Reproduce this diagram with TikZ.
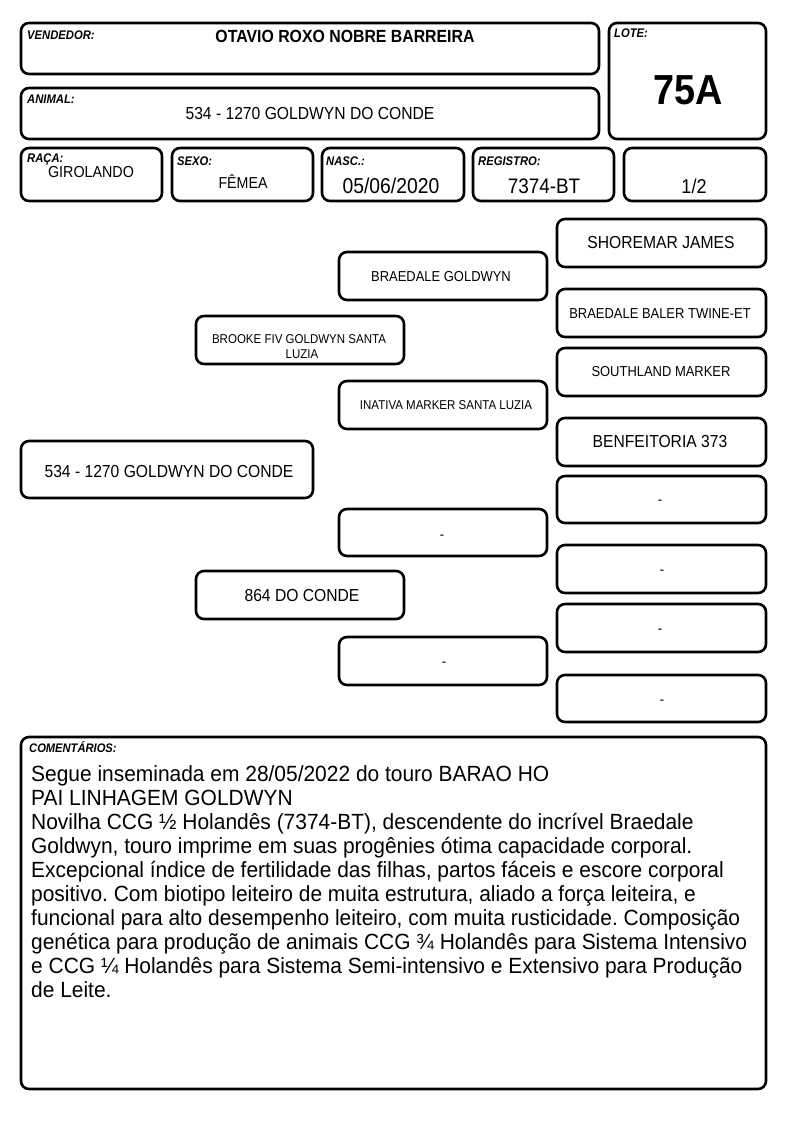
\documentclass[tikz,border=0pt]{standalone}
\usepackage{fontspec}
\setmainfont[FakeStretch=0.9]{Liberation Sans}
\newfontfamily\comfont[FakeStretch=0.952]{Liberation Sans}
\frenchspacing
\newcommand\fs[1]{\fontsize{#1}{#1}\selectfont}
\newcommand\mybox[5]{\node[box,minimum width={(#4)-(#2)},minimum height={(#5)-(#3)}] (#1) at ({((#2)+(#4))/2},{((#3)+(#5))/2}) {};}
\begin{document}
\begin{tikzpicture}[x=1pt,y=-1pt,
  box/.style={draw,line width=2.6pt,rounded corners=8pt,inner sep=0pt},
  lbl/.style={anchor=base west,inner sep=0pt,font=\fs{12.5}\bfseries\itshape},
  val/.style={anchor=base,inner sep=0pt},
  ped/.style={anchor=base,inner sep=0pt,font=\fs{17.4}},
  pedm/.style={anchor=base,inner sep=0pt,font=\fs{14.4}},
  peds/.style={anchor=base,inner sep=0pt,font=\fs{12.8}}]
\useasboundingbox (0,0) rectangle (794,1123);
% header
\mybox{vend}{21}{23}{599}{74}
\mybox{lote}{609}{23}{766}{139}
\mybox{anim}{21}{88}{599}{139}
\mybox{raca}{21}{148}{162}{201}
\mybox{sexo}{172}{148}{313}{201}
\mybox{nasc}{322}{148}{464}{201}
\mybox{reg}{473}{148}{614}{201}
\mybox{frac}{624}{148}{766}{201}
\node[lbl] (vendl) at (27,40) {VENDEDOR:};
\node[val,font=\fs{17.6}\bfseries] (vendv) at (345,43) {OTAVIO ROXO NOBRE BARREIRA};
\node[lbl] (lotel) at (614,38) {LOTE:};
\node[val,font=\fs{42}\bfseries] (lotev) at (688,105) {75A};
\node[lbl] (animl) at (27,104) {ANIMAL:};
\node[val,font=\fs{17.4}] (animv) at (310,120) {534 - 1270 GOLDWYN DO CONDE};
\node[lbl] (racal) at (27,163) {RAÇA:};
\node[val,font=\fs{15.9}] (racav) at (91,178) {GIROLANDO};
\node[lbl] (sexol) at (177,166) {SEXO:};
\node[val,font=\fs{15.8}] (sexov) at (243,189) {FÊMEA};
\node[lbl] (nascl) at (326,166) {NASC.:};
\node[val,font=\fs{21.5}] (nascv) at (391,194) {05/06/2020};
\node[lbl] (regl) at (478,166) {REGISTRO:};
\node[val,font=\fs{21}] (regv) at (544,194) {7374-BT};
\node[val,font=\fs{20}] (fracv) at (694,194) {1/2};
% pedigree boxes
\mybox{p1}{557}{219}{766}{267}
\mybox{g1}{339}{252}{547}{300}
\mybox{p2}{557}{289}{766}{337}
\mybox{s1}{196}{316}{404}{364}
\mybox{p3}{557}{348}{766}{396}
\mybox{g2}{339}{381}{547}{429}
\mybox{p4}{557}{418}{766}{466}
\mybox{an}{21}{441}{313}{498}
\mybox{p5}{557}{476}{766}{523}
\mybox{g3}{339}{509}{547}{556}
\mybox{p6}{557}{545}{766}{593}
\mybox{s2}{196}{571}{404}{619}
\mybox{p7}{557}{604}{766}{652}
\mybox{g4}{339}{637}{547}{685}
\mybox{p8}{557}{675}{766}{722}
\node[ped] (t1) at (661,248) {SHOREMAR JAMES};
\node[pedm] (t2) at (441,281) {BRAEDALE GOLDWYN};
\node[pedm] (t3) at (660,318) {BRAEDALE BALER TWINE-ET};
\node[peds] (t4a) at (299,343.5) {BROOKE FIV GOLDWYN SANTA};
\node[peds] (t4b) at (302,358.5) {LUZIA};
\node[pedm] (t5) at (661,376) {SOUTHLAND MARKER};
\node[peds] (t6) at (446,409.5) {INATIVA MARKER SANTA LUZIA};
\node[ped] (t7) at (660,447) {BENFEITORIA 373};
\node[ped] (t8) at (169,477) {534 - 1270 GOLDWYN DO CONDE};
\node[pedm] (t9) at (660,504) {-};
\node[pedm] (t10) at (442,539) {-};
\node[pedm] (t11) at (662,574) {-};
\node[ped] (t12) at (302,601) {864 DO CONDE};
\node[pedm] (t13) at (660,633) {-};
\node[pedm] (t14) at (444,666) {-};
\node[pedm] (t15) at (662,704) {-};
% comments
\mybox{com}{21}{737}{766}{1089}
\node[lbl,font=\fs{12.4}\bfseries\itshape] (coml) at (29,752) {COMENTÁRIOS:};
\node[anchor=north west,align=left,inner sep=0pt,font=\comfont\fontsize{22}{24}\selectfont] (comt) at (31,765) {%
Segue inseminada em 28/05/2022 do touro BARAO HO\\
PAI LINHAGEM GOLDWYN\\
Novilha CCG ½ Holandês (7374-BT), descendente do incrível Braedale\\
Goldwyn, touro imprime em suas progênies ótima capacidade corporal.\\
Excepcional índice de fertilidade das filhas, partos fáceis e escore corporal\\
positivo. Com biotipo leiteiro de muita estrutura, aliado a força leiteira, e\\
funcional para alto desempenho leiteiro, com muita rusticidade. Composição\\
genética para produção de animais CCG ¾ Holandês para Sistema Intensivo\\
e CCG ¼ Holandês para Sistema Semi-intensivo e Extensivo para Produção\\
de Leite.};
\end{tikzpicture}
\end{document}
